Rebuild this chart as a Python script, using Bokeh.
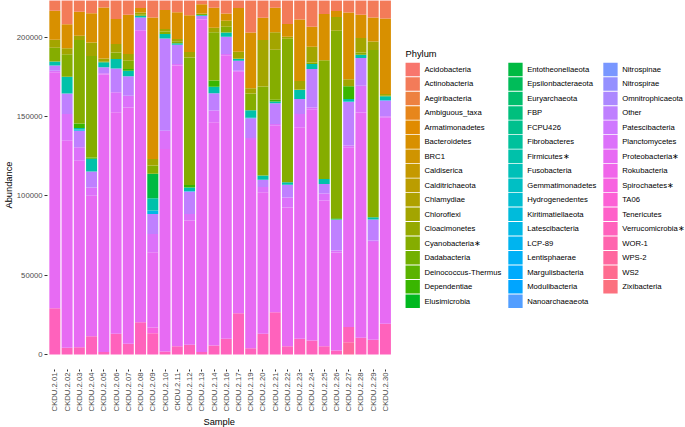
import math
from bokeh.plotting import figure
from bokeh.models import ColumnDataSource, Range1d, FixedTicker, BasicTickFormatter, Title
from bokeh.core.properties import value
from bokeh.embed import file_html
from bokeh.resources import INLINE

# ---------------- data ----------------
samples = ["CKDU.2.01", "CKDU.2.02", "CKDU.2.03", "CKDU.2.04", "CKDU.2.05", "CKDU.2.06",
           "CKDU.2.07", "CKDU.2.08", "CKDU.2.09", "CKDU.2.10", "CKDU.2.11", "CKDU.2.12",
           "CKDU.2.13", "CKDU.2.14", "CKDU.2.16", "CKDU.2.17", "CKDU.2.19", "CKDU.2.20",
           "CKDU.2.21", "CKDU.2.22", "CKDU.2.23", "CKDU.2.24", "CKDU.2.25", "CKDU.2.26",
           "CKDU.2.27", "CKDU.2.28", "CKDU.2.29", "CKDU.2.30"]

phyla = ["Acidobacteria", "Actinobacteria", "Aegiribacteria", "Ambiguous_taxa", "Armatimonadetes",
         "Bacteroidetes", "BRC1", "Caldiserica", "Calditrichaeota", "Chlamydiae", "Chloroflexi",
         "Cloacimonetes", "Cyanobacteria", "Dadabacteria", "Deinococcus-Thermus", "Dependentiae",
         "Elusimicrobia", "Entotheonellaeota", "Epsilonbacteraeota", "Euryarchaeota", "FBP",
         "FCPU426", "Fibrobacteres", "Firmicutes", "Fusobacteria", "Gemmatimonadetes",
         "Hydrogenedentes", "Kiritimatiellaeota", "Latescibacteria", "LCP-89", "Lentisphaerae",
         "Margulisbacteria", "Modulibacteria", "Nanoarchaeaeota", "Nitrospinae", "Nitrospirae",
         "Omnitrophicaeota", "Other", "Patescibacteria", "Planctomycetes", "Proteobacteria",
         "Rokubacteria", "Spirochaetes", "TA06", "Tenericutes", "Verrucomicrobia", "WOR-1",
         "WPS-2", "WS2", "Zixibacteria"]

legend_labels = ["Acidobacteria", "Actinobacteria", "Aegiribacteria", "Ambiguous_taxa", "Armatimonadetes",
                 "Bacteroidetes", "BRC1", "Caldiserica", "Calditrichaeota", "Chlamydiae", "Chloroflexi",
                 "Cloacimonetes", "Cyanobacteria\u2217", "Dadabacteria", "Deinococcus-Thermus", "Dependentiae",
                 "Elusimicrobia", "Entotheonellaeota", "Epsilonbacteraeota", "Euryarchaeota", "FBP",
                 "FCPU426", "Fibrobacteres", "Firmicutes\u2217", "Fusobacteria", "Gemmatimonadetes",
                 "Hydrogenedentes", "Kiritimatiellaeota", "Latescibacteria", "LCP-89", "Lentisphaerae",
                 "Margulisbacteria", "Modulibacteria", "Nanoarchaeaeota", "Nitrospinae", "Nitrospirae",
                 "Omnitrophicaeota", "Other", "Patescibacteria", "Planctomycetes", "Proteobacteria\u2217",
                 "Rokubacteria", "Spirochaetes\u2217", "TA06", "Tenericutes", "Verrucomicrobia\u2217", "WOR-1",
                 "WPS-2", "WS2", "Zixibacteria"]

acidobacteria = [800, 900, 700, 800, 600, 900, 800, 700, 900, 800, 700, 800, 600, 700,
                 800, 700, 900, 800, 700, 800, 900, 800, 700, 800, 900, 800, 700, 800]
actinobacteria = [8300, 16700, 8900, 9800, 6600, 13500, 10800, 6600, 12500, 7900, 9400, 11500, 4500, 6600,
                  10000, 7000, 22000, 12900, 6600, 16700, 14200, 18400, 10800, 8700, 11500, 10800, 12500, 13500]
bacteroidetes = [18300, 15100, 15100, 18500, 32200, 15800, 24800, 2800, 89300, 12000, 16800, 23100, 5900, 12600,
                 4600, 27600, 35100, 13900, 15400, 8000, 38700, 12600, 29000, 3800, 42100, 14700, 15100, 47700]
chloroflexi = [5000, 3800, 2700, 8400, 2100, 5300, 4200, 1100, 4200, 1500, 1500, 3500, 300, 2800,
               3800, 4200, 3400, 29400, 11100, 1300, 5400, 9900, 400, 8800, 4200, 9100, 5400, 1100]
cyanobacteria = [8800, 14300, 52600, 64100, 300, 4200, 5200, 900, 5200, 1600, 1300, 80500, 600, 30500,
                 3600, 400, 10500, 56100, 31500, 90600, 300, 1000, 74600, 118300, 200, 1500, 105500, 300]
dependentiae = [0, 0, 2900, 800, 0, 0, 1100, 0, 0, 0, 0, 1500, 0, 3800,
                0, 0, 0, 0, 1100, 0, 0, 0, 0, 600, 8000, 0, 0, 0]
entotheonellaeota = [0, 0, 0, 0, 0, 0, 0, 0, 15400, 0, 0, 0, 0, 0,
                     0, 0, 0, 0, 0, 0, 0, 0, 0, 0, 0, 0, 0, 0]
firmicutes = [2500, 10500, 1000, 8000, 3200, 5900, 3600, 1100, 7800, 2800, 800, 2300, 400, 4200,
              2700, 1100, 4700, 2700, 1100, 1500, 5700, 3200, 3200, 300, 1500, 2100, 1500, 2300]
latescibacteria = [0, 0, 700, 0, 0, 0, 0, 0, 2100, 0, 0, 300, 0, 0,
                   0, 0, 400, 0, 0, 0, 0, 0, 0, 0, 400, 0, 0, 400]
other = [3200, 13000, 10500, 10100, 3800, 15100, 12200, 7900, 12600, 58200, 12200, 14100, 2100, 10900,
         10900, 6300, 12400, 4700, 13000, 8000, 9500, 24200, 6100, 19400, 27400, 17500, 13200, 9900]
planctomycetes = [1000, 16800, 8400, 5200, 800, 12600, 7400, 600, 11600, 11500, 1000, 4200, 300, 7400,
                  800, 600, 1200, 3200, 1200, 6300, 8400, 1500, 4400, 1200, 1500, 16800, 900, 1000]
proteobacteria = [148900, 130700, 117700, 88700, 175100, 139700, 149200, 183800, 47500, 127800, 177100, 78400,
                  209900, 140800, 178900, 152400, 131400, 89300, 117600, 87600, 133400, 145600, 91900, 61900,
                  113100, 142200, 61700, 129900]
spirochaetes = [0, 0, 0, 0, 0, 0, 0, 0, 3600, 0, 0, 0, 0, 0,
                0, 0, 0, 0, 0, 0, 0, 0, 0, 0, 0, 0, 0, 0]
verrucomicrobia = [29200, 4200, 4600, 11500, 1500, 13100, 6700, 20400, 13400, 1900, 5200, 6100, 1500, 5700,
                   9900, 26000, 4000, 13100, 26700, 5200, 9900, 8800, 5200, 2500, 9500, 10500, 9300, 19400]
wps2 = [0, 0, 0, 0, 0, 0, 0, 0, 0, 0, 0, 0, 0, 0,
        0, 0, 0, 0, 0, 0, 0, 0, 0, 0, 7800, 0, 0, 0]

y_ticks = [0, 50000, 100000, 150000, 200000]

series = {
    "Acidobacteria": acidobacteria, "Actinobacteria": actinobacteria, "Bacteroidetes": bacteroidetes,
    "Chloroflexi": chloroflexi, "Cyanobacteria": cyanobacteria, "Dependentiae": dependentiae,
    "Entotheonellaeota": entotheonellaeota, "Firmicutes": firmicutes, "Latescibacteria": latescibacteria,
    "Other": other, "Planctomycetes": planctomycetes, "Proteobacteria": proteobacteria,
    "Spirochaetes": spirochaetes, "Verrucomicrobia": verrucomicrobia, "WPS-2": wps2,
}


# ------------- ggplot2 default hue palette -------------
def hcl_hex(h, c=100.0, l=65.0):
    hr = math.radians(h)
    u = c * math.cos(hr)
    v = c * math.sin(hr)
    Xn, Yn, Zn = 95.047, 100.0, 108.883
    Y = Yn * ((l + 16.0) / 116.0) ** 3
    den = Xn + 15.0 * Yn + 3.0 * Zn
    un, vn = 4.0 * Xn / den, 9.0 * Yn / den
    up = u / (13.0 * l) + un
    vp = v / (13.0 * l) + vn
    X = 9.0 * Y * up / (4.0 * vp)
    Z = -X / 3.0 - 5.0 * Y + 3.0 * Y / vp
    X, Y, Z = X / 100.0, Y / 100.0, Z / 100.0
    r = 3.240479 * X - 1.537150 * Y - 0.498535 * Z
    g = -0.969256 * X + 1.875992 * Y + 0.041556 * Z
    b = 0.055648 * X - 0.204043 * Y + 1.057311 * Z

    def gam(t):
        t = 12.92 * t if t <= 0.0031308 else 1.055 * t ** (1 / 2.4) - 0.055
        return int(round(min(max(t, 0.0), 1.0) * 255))
    return "#%02X%02X%02X" % (gam(r), gam(g), gam(b))


n = len(phyla)
colors = [hcl_hex(15 + 360.0 * i / n) for i in range(n)]

xpos = [i + 1 for i in range(len(samples))]
data = {"Sample": samples, "x": xpos}
for ph in phyla:
    data[ph] = series.get(ph, [0] * len(samples))
src = ColumnDataSource(data)

FONT = "Liberation Sans"

# ---------------- layout constants (pixels) ----------------
W, H = 685, 427
FL, FB = 43, 58           # frame left offset, bottom border
unit_px = 12.32           # pixels per sample slot
x_lo = 0.4
x_hi = x_lo + (W - FL) / unit_px

p = figure(width=W, height=H, output_backend="svg", toolbar_location=None,
           x_range=Range1d(x_lo, x_hi), y_range=Range1d(-9470, 223350),
           min_border_left=FL, min_border_top=0, min_border_bottom=FB, min_border_right=0)
p.outline_line_color = None
p.background_fill_color = "white"
p.xgrid.visible = False
p.ygrid.visible = False

stack_order = list(reversed(phyla))
stack_colors = list(reversed(colors))
p.vbar_stack(stack_order, x="x", width=0.9, source=src,
             fill_color=stack_colors, line_color=None)

p.yaxis.ticker = FixedTicker(ticks=y_ticks)
p.yaxis.formatter = BasicTickFormatter(use_scientific=False)
p.xaxis.ticker = FixedTicker(ticks=xpos)
p.xaxis.major_label_overrides = {x: s for x, s in zip(xpos, samples)}

for ax in (p.xaxis[0], p.yaxis[0]):
    ax.axis_line_color = None
    ax.major_tick_in = 0
    ax.major_tick_line_color = "#333333"
    ax.minor_tick_line_color = None
    ax.major_label_text_font = FONT
    ax.major_label_text_font_size = "7.7px"
    ax.major_label_text_color = "#4D4D4D"
    ax.axis_label_text_font = FONT
    ax.axis_label_text_font_size = "9.3px"
    ax.axis_label_text_font_style = "normal"
    ax.axis_label_text_color = "#000000"
    ax.axis_label_standoff = 0

p.yaxis.major_tick_out = 3
p.yaxis.major_label_standoff = 2
p.xaxis.major_tick_out = 2
p.xaxis.major_label_standoff = 1

p.yaxis.axis_label = "Abundance"
p.xaxis.major_label_orientation = math.pi / 2

# x-axis title, centred under the sample bars
x_title = Title(text="Sample", align="left", offset=199 - FL, standoff=0,
                text_font=FONT, text_font_size="9.3px", text_font_style="normal",
                text_color="#000000")
p.add_layout(x_title, "below")

# ---------------- legend (pixel-space ranges over the right part of the frame) ----------------
p.extra_x_ranges = {"lx": Range1d(FL, W)}
p.extra_y_ranges = {"ly": Range1d(H - FB, 0)}

col_x = [403.3, 506.7, 602.3]
rows_per_col = 17
row0 = 69.0
pitch = 14.48
key_w, key_h = 14.4, 13.6

kx, ky, tx = [], [], []
for i in range(n):
    c, r = divmod(i, rows_per_col)
    kx.append(col_x[c] + key_w / 2)
    ky.append(row0 + pitch * r)
    tx.append(col_x[c] + 19.0)

leg_src = ColumnDataSource(dict(kx=kx, ky=ky, tx=tx, label=legend_labels, color=colors))
p.rect(x="kx", y="ky", width=key_w, height=key_h, fill_color="color", line_color=None,
       source=leg_src, x_range_name="lx", y_range_name="ly")
p.text(x="tx", y="ky", text="label", source=leg_src, text_baseline="middle", text_align="left",
       text_font=value(FONT), text_font_size="7.7px", text_color="#000000",
       x_range_name="lx", y_range_name="ly")
p.text(x=[403.3], y=[53.0], text=["Phylum"], text_baseline="middle", text_align="left",
       text_font=value(FONT), text_font_size="9.3px", text_color="#000000",
       x_range_name="lx", y_range_name="ly")

open("out.html", "w").write(file_html(p, INLINE))
